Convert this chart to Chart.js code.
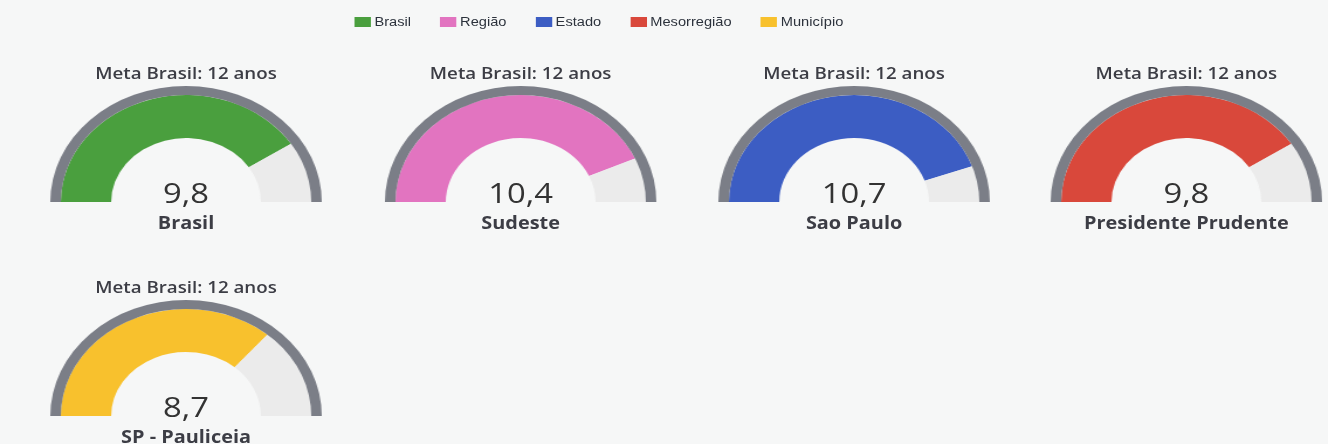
<!DOCTYPE html>
<html>
<head>
<meta charset="utf-8">
<script src="https://cdn.jsdelivr.net/npm/chart.js@4/dist/chart.umd.min.js"></script>
<style>
  html, body { margin: 0; padding: 0; background: #f6f7f7; }
  body { width: 1328px; height: 444px; overflow: hidden; position: relative; }
  #stage { position: absolute; left: 0; top: 0; width: 1135px; height: 444px; transform: scaleX(1.17); transform-origin: 0 0; }
  .legend { position: absolute; left: 303px; top: 16px; height: 12px; display: flex; align-items: center; gap: 25px; font-family: "Liberation Sans", Arial, sans-serif; font-size: 12.5px; color: #2c323c; }
  .legend .item { display: flex; align-items: center; }
  .legend .box { width: 14px; height: 10px; margin-right: 3px; }
  .gauge canvas { position: absolute; }
  .txt { position: absolute; transform: translate(-50%, -50%); white-space: nowrap; line-height: 1; font-family: "Open Sans", sans-serif; color: #3c3d45; }
  .title { font-size: 16px; font-weight: 600; }
  .value { font-size: 28px; font-weight: 400; color: #333; }
  .name { font-size: 17px; font-weight: 700; }
</style>
</head>
<body>
<div id="stage">
  <div class="legend" id="legend"></div>
</div>
<script>
// ---- data ----
const categories = ['Brasil', 'Sudeste', 'Sao Paulo', 'Presidente Prudente', 'SP - Pauliceia'];
const values = [9.8, 10.4, 10.7, 9.8, 8.7];
const legendLabels = ['Brasil', 'Região', 'Estado', 'Mesorregião', 'Município'];
const metaValue = 12;
const titleLabel = 'Meta Brasil: 12 anos';

// ---- styles ----
const colors = ['#4a9f3e', '#e274c0', '#3c5dc3', '#d9483b', '#f8c12d'];
const ringColor = '#7b7e87';
const restColor = '#ebebeb';
const R = 116, ringW = 9, innerR = 64;
const centersX = [159, 445, 730, 1014];
const rowsBottom = [202, 416];

const stage = document.getElementById('stage');
const legend = document.getElementById('legend');
legendLabels.forEach((l, i) => {
  const it = document.createElement('div'); it.className = 'item';
  const b = document.createElement('span'); b.className = 'box'; b.style.background = colors[i];
  const t = document.createElement('span'); t.textContent = l;
  it.appendChild(b); it.appendChild(t); legend.appendChild(it);
});

function addText(cls, text, x, y) {
  const d = document.createElement('div');
  d.className = 'txt ' + cls; d.textContent = text;
  d.style.left = x + 'px'; d.style.top = y + 'px';
  stage.appendChild(d);
}

categories.forEach((cat, i) => {
  const cx = centersX[i % 4];
  const by = rowsBottom[Math.floor(i / 4)];
  const wrap = document.createElement('div'); wrap.className = 'gauge';
  const c = document.createElement('canvas');
  c.width = 2 * R; c.height = R;
  c.style.left = (cx - R) + 'px'; c.style.top = (by - R) + 'px';
  c.style.width = 2 * R + 'px'; c.style.height = R + 'px';
  wrap.appendChild(c); stage.appendChild(wrap);
  new Chart(c, {
    type: 'doughnut',
    data: {
      labels: [cat, ''],
      datasets: [
        { data: [metaValue], backgroundColor: [ringColor], borderWidth: 0, weight: ringW },
        { data: [values[i], metaValue - values[i]], backgroundColor: [colors[i], restColor], borderWidth: 0, weight: R - ringW - innerR }
      ]
    },
    options: {
      responsive: false,
      animation: false,
      rotation: -90,
      circumference: 180,
      cutout: (innerR / R * 100) + '%',
      layout: { padding: 0 },
      plugins: { legend: { display: false }, tooltip: { enabled: false }, title: { display: false } },
      events: []
    }
  });
  addText('title', titleLabel, cx, by - 129);
  addText('value', values[i].toFixed(1).replace('.', ','), cx, by - 10);
  addText('name', cat, cx, by + 20);
});
</script>
</body>
</html>
